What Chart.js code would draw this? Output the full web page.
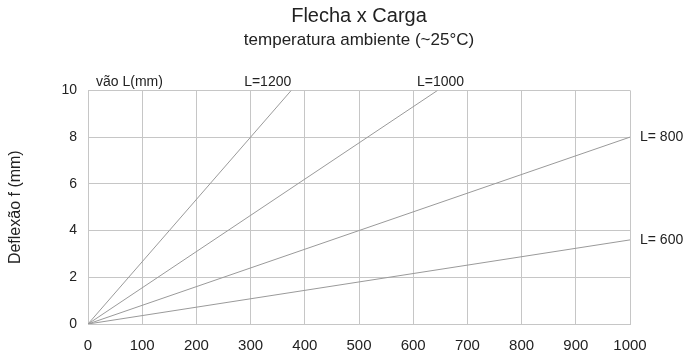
<!DOCTYPE html>
<html>
<head>
<meta charset="utf-8">
<script src="https://cdn.jsdelivr.net/npm/chart.js@4/dist/chart.umd.min.js"></script>
<style>
  html, body { margin: 0; padding: 0; background: #fff; }
  #wrap { width: 690px; height: 356px; }
</style>
</head>
<body>
<div id="wrap"><canvas id="grafico"></canvas></div>
<script>
// vãos (mm) e ponto final de cada reta carga x flecha
const vaos = ['L=1200', 'L=1000', 'L= 800', 'L= 600'];
const cargaFim = [375, 645, 1000, 1000];
const flechaFim = [10, 10, 8, 3.6];
const ticksCarga = [0, 100, 200, 300, 400, 500, 600, 700, 800, 900, 1000];
const ticksFlecha = [0, 2, 4, 6, 8, 10];

const fonte = "'Liberation Sans', Arial, sans-serif";

// cada vão é uma reta partindo da origem
const datasets = vaos.map((v, i) => ({
  label: v,
  data: [{ x: 0, y: 0 }, { x: cargaFim[i], y: flechaFim[i] }],
  borderColor: '#9a9a9a',
  borderWidth: 1,
  pointRadius: 0,
  fill: false,
  tension: 0
}));

// rótulos dos vãos na ponta de cada reta
const rotulosVao = {
  id: 'rotulosVao',
  afterDraw(chart) {
    const { ctx, scales: { x, y }, chartArea } = chart;
    ctx.save();
    ctx.font = '14px ' + fonte;
    ctx.fillStyle = '#222';
    ctx.textBaseline = 'middle';
    // legenda do eixo de vãos
    ctx.textAlign = 'left';
    ctx.fillText('vão L(mm)', chartArea.left + 8, chartArea.top - 8);
    vaos.forEach((v, i) => {
      const px = x.getPixelForValue(cargaFim[i]);
      const py = y.getPixelForValue(flechaFim[i]);
      if (flechaFim[i] >= y.max) {
        ctx.textAlign = i === 0 ? 'right' : 'center';
        ctx.fillText(v, px + (i === 0 ? 0 : 3), py - 8);
      } else {
        ctx.textAlign = 'left';
        ctx.fillText(v, px + 10, py);
      }
    });
    ctx.restore();
  }
};

new Chart(document.getElementById('grafico'), {
  type: 'line',
  data: { datasets },
  options: {
    responsive: true,
    maintainAspectRatio: false,
    animation: false,
    layout: { padding: { left: 4, right: 60, top: 4, bottom: 4 } },
    plugins: {
      legend: { display: false },
      tooltip: { enabled: false },
      title: {
        display: true,
        fullSize: false,
        text: 'Flecha x Carga',
        color: '#222',
        font: { family: fonte, size: 20, weight: 'normal' },
        padding: { top: 0, bottom: 0 }
      },
      subtitle: {
        display: true,
        fullSize: false,
        text: 'temperatura ambiente (~25°C)',
        color: '#222',
        font: { family: fonte, size: 17, weight: 'normal' },
        padding: { top: 2, bottom: 40 }
      }
    },
    scales: {
      x: {
        type: 'linear',
        min: 0,
        max: 1000,
        afterBuildTicks(s) { s.ticks = ticksCarga.map(v => ({ value: v })); },
        afterFit(s) { s.height = 28; },
        grid: { color: '#c6c6c6', drawTicks: false },
        border: { color: '#c6c6c6' },
        ticks: {
          color: '#222', padding: 13, maxRotation: 0,
          font: { family: fonte, size: 15 },
          callback: v => String(v)
        }
      },
      y: {
        type: 'linear',
        min: 0,
        max: 10,
        afterBuildTicks(s) { s.ticks = ticksFlecha.map(v => ({ value: v })); },
        afterFit(s) { s.width = 84; },
        grid: { color: '#c6c6c6', drawTicks: false },
        border: { color: '#c6c6c6' },
        title: {
          display: true,
          text: 'Deflexão f (mm)',
          color: '#222',
          font: { family: fonte, size: 16 },
          padding: { top: 2, bottom: 0 }
        },
        ticks: {
          color: '#222', padding: 11,
          font: { family: fonte, size: 14 },
          callback: v => String(v)
        }
      }
    }
  },
  plugins: [rotulosVao]
});
</script>
</body>
</html>
